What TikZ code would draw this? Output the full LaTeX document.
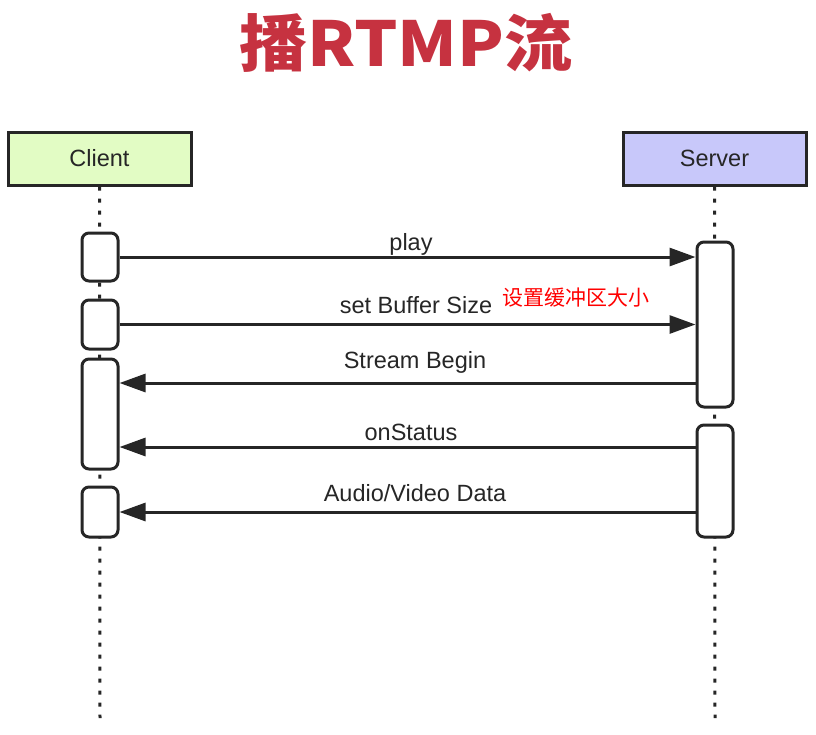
\documentclass[tikz,border=0pt]{standalone}
\usepackage{fontspec}
\setmainfont{Liberation Sans}
\newfontfamily\cjk{Noto Sans CJK SC}
\usetikzlibrary{arrows.meta}
\definecolor{titlered}{RGB}{198,50,64}
\definecolor{clientfill}{RGB}{226,252,196}
\definecolor{serverfill}{RGB}{200,200,250}
\definecolor{ink}{RGB}{38,38,38}
\tikzset{
  actor/.style={draw=ink, line width=3pt, minimum width=183pt, minimum height=53pt, inner sep=0pt, font=\fontsize{23.5}{27}\selectfont, text=ink},
  act/.style={draw=ink, line width=3pt, rounded corners=7pt, fill=white, minimum width=36pt, inner sep=0pt},
  lifeline/.style={draw=ink, line width=3pt, dash pattern=on 4pt off 8pt},
  msg/.style={draw=ink, line width=3pt, -{Triangle[length=26pt,width=18pt]}},
  lbl/.style={anchor=base, inner sep=0pt, font=\fontsize{23.5}{27}\selectfont, text=ink},
}
\begin{document}
\begin{tikzpicture}[x=1pt,y=-1pt]
\useasboundingbox (0,0) rectangle (816,734);
\node[inner sep=0pt, text=titlered] (title) at (406,43) {\scalebox{1.1}[1]{\cjk\bfseries\fontsize{62}{70}\selectfont 播RTMP流}};
\node[actor, fill=clientfill] (client) at (99.5,158.5) {Client};
\node[actor, fill=serverfill] (server) at (714.5,158.5) {Server};
\coordinate (cend) at (100,718);
\coordinate (send) at (715,718);
\draw[lifeline] (client.south) -- (cend);
\draw[lifeline] (server.south) -- (send);
\node[act, minimum height=48pt] (c1) at (100,257) {};
\node[act, minimum height=49pt] (c2) at (100,324.5) {};
\node[act, minimum height=110pt] (c3) at (100,414) {};
\node[act, minimum height=50pt] (c4) at (100,512) {};
\node[act, minimum height=165pt] (s1) at (715,324.5) {};
\node[act, minimum height=112pt] (s2) at (715,481) {};
\draw[msg] (c1.east) -- (c1.east -| s1.west);
\draw[msg] (c2.east) -- (c2.east -| s1.west);
\draw[msg] (s1.west |- 0,383) -- (c3.east |- 0,383);
\draw[msg] (s2.west |- 0,447) -- (c3.east |- 0,447);
\draw[msg] (s2.west |- c4.east) -- (c4.east);
\node[lbl] (l1) at (411,250) {play};
\node[lbl] (l2) at (416,313) {set Buffer Size};
\node[lbl] (l3) at (415,368) {Stream Begin};
\node[lbl] (l4) at (411,440) {onStatus};
\node[lbl] (l5) at (415,501) {Audio/Video Data};
\node[anchor=base west, inner sep=0pt, text=red, font=\cjk\fontsize{21}{24}\selectfont] (note) at (502,305) {设置缓冲区大小};
\end{tikzpicture}
\end{document}
